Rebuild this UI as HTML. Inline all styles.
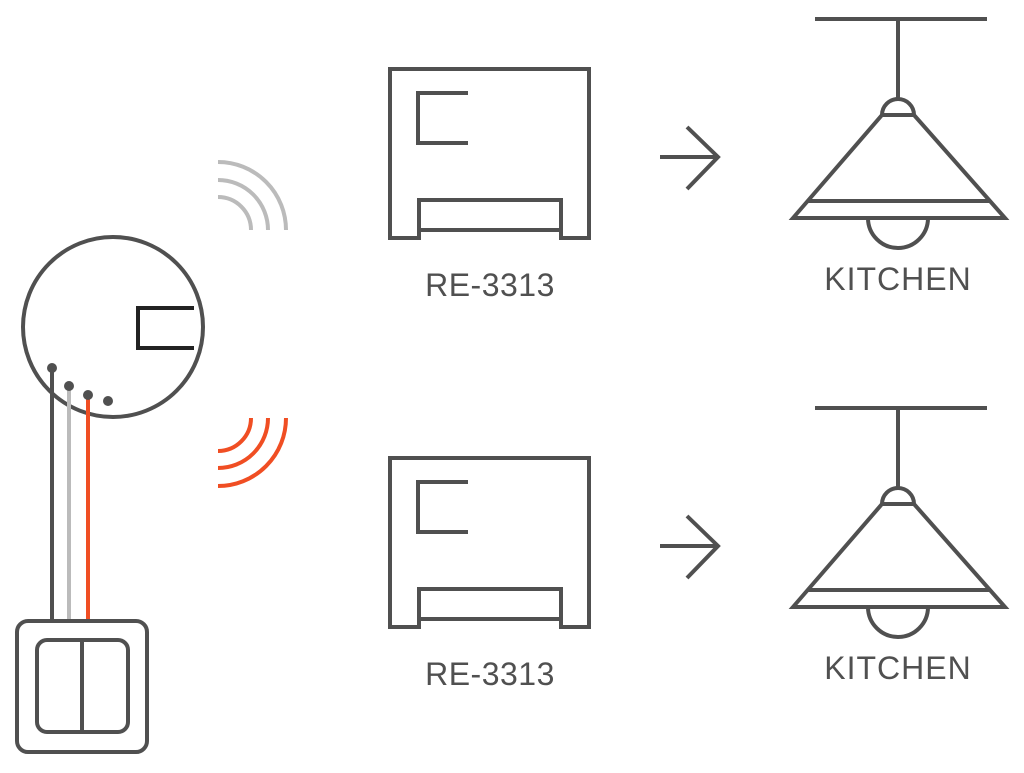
<!DOCTYPE html>
<html><head><meta charset="utf-8"><style>
html,body{margin:0;padding:0;background:#fff;}
svg{display:block;}
text{font-family:"Liberation Sans",sans-serif;fill:#505050;}
</style></head><body>
<svg width="1024" height="773" viewBox="0 0 1024 773" xmlns="http://www.w3.org/2000/svg">
<defs>
<g id="dev" fill="none" stroke="#505050" stroke-width="4">
  <path d="M419,238 H390 V69 H589 V238 H561 V200 H419 Z"/>
  <path d="M419,230 H561"/>
  <path d="M468,93 H418 V143 H468"/>
  <path d="M660,157 H718 M687,127 L718,157 L687,189"/>
  <path d="M815,19 H987 M898,19 V100"/>
  <path d="M882,115 A16,16 0 0 1 914,115 Z"/>
  <path d="M793,218 L882,115 H914 L1005,218 Z"/>
  <path d="M808,201 H990"/>
  <path d="M868,218 A30,30 0 0 0 928,218"/>
</g>
</defs>
<use href="#dev"/>
<use href="#dev" y="389"/>
<text x="490" y="296" font-size="32" letter-spacing="0.5" text-anchor="middle">RE-3313</text>
<text x="898" y="290" font-size="32" letter-spacing="1" text-anchor="middle">KITCHEN</text>
<text x="490" y="685" font-size="32" letter-spacing="0.5" text-anchor="middle">RE-3313</text>
<text x="898" y="679" font-size="32" letter-spacing="1" text-anchor="middle">KITCHEN</text>
<g fill="none" stroke-width="4">
  <path stroke="#bbbbbb" d="M218,162 A68,68 0 0 1 286,230 M218,180 A50,50 0 0 1 268,230 M218,197 A33,33 0 0 1 251,230"/>
  <path stroke="#f04e23" d="M286,418 A68,68 0 0 1 218,486 M268,418 A50,50 0 0 1 218,468 M251,418 A33,33 0 0 1 218,451"/>
  <circle cx="113" cy="327" r="90" stroke="#505050"/>
  <path d="M194,308 H138 V348 H194" stroke="#222" stroke-width="4"/>
  <path d="M52,368 V621" stroke="#505050"/>
  <path d="M69,386 V621" stroke="#bbbbbb"/>
  <path d="M88,395 V621" stroke="#f04e23"/>
  <rect x="17" y="621" width="130" height="131" rx="11" stroke="#505050"/>
  <rect x="37" y="640" width="91" height="92" rx="10" stroke="#505050"/>
  <path d="M82,640 V732" stroke="#505050"/>
</g>
<g fill="#505050">
  <circle cx="52" cy="368" r="5"/><circle cx="69" cy="386" r="5"/>
  <circle cx="88" cy="395" r="5"/><circle cx="108" cy="401" r="5"/>
</g>
</svg>
</body></html>
